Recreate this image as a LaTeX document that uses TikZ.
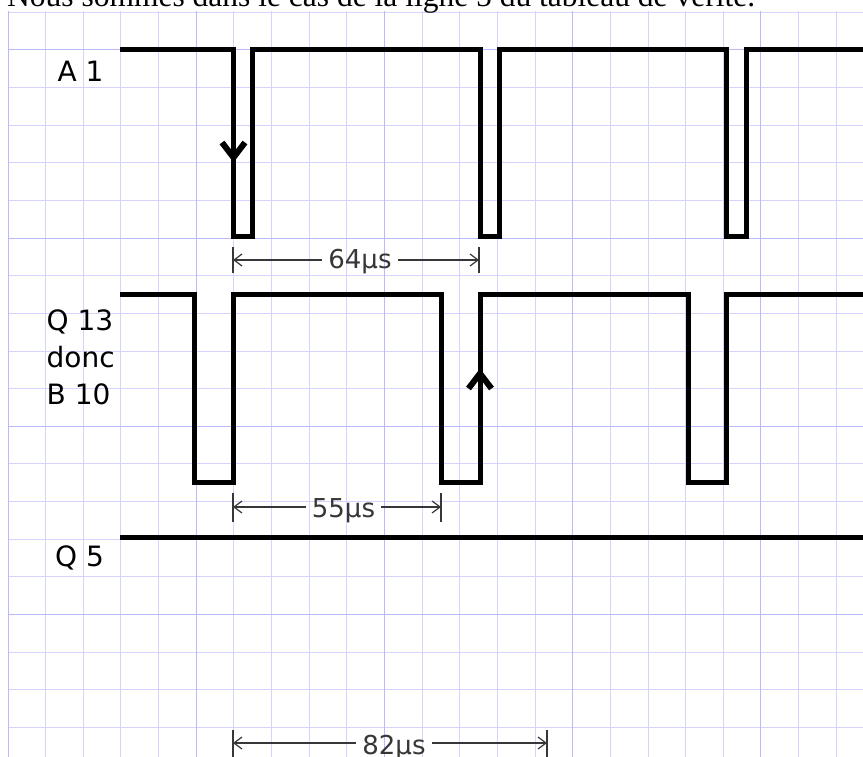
\documentclass[tikz,border=0pt]{standalone}
\usepackage{fontspec}
\setmainfont{Liberation Serif}
\newfontfamily\dvs{DejaVu Sans}
\usetikzlibrary{arrows.meta}
\definecolor{gridminor}{RGB}{212,212,255}
\definecolor{gridmajor}{RGB}{185,185,255}
\definecolor{dimgray}{RGB}{55,55,55}
\begin{document}
\begin{tikzpicture}[x=1pt,y=-1pt,
  signal/.style={line width=5pt, line join=miter, draw=black},
  edgearrow/.style={line width=6pt, line join=miter, draw=black},
  siglabel/.style={font=\dvs\fontsize{28}{37}\selectfont, anchor=base west, inner sep=0pt, align=left},
  dimtext/.style={font=\dvs\fontsize{26}{30}\selectfont, text=dimgray, anchor=base, inner xsep=6pt, inner ysep=0pt},
  dimline/.style={line width=1.2pt, draw=dimgray, -{Straight Barb[length=8pt,width=12pt,line width=1.2pt]}},
  dimbar/.style={line width=1.8pt, draw=dimgray},
  gridminorline/.style={line width=1pt, draw=gridminor},
  gridmajorline/.style={line width=1pt, draw=gridmajor}]

\useasboundingbox (0,0) rectangle (863,757);
\fill[white] (0,0) rectangle (863,757);

% grid
\foreach \k in {0,...,22} {
  \pgfmathsetmacro\xx{round(7.5+37.65*\k)+0.5}
  \draw[gridminorline] (\xx,11.5) -- (\xx,757);
}
\foreach \k in {0,...,19} {
  \pgfmathsetmacro\yy{round(11.7+37.65*\k)+0.5}
  \draw[gridminorline] (7.5,\yy) -- (863,\yy);
}
\foreach \k in {0,5,10,15,20} {
  \pgfmathsetmacro\xx{round(7.5+37.65*\k)+0.5}
  \draw[gridmajorline] (\xx,11.5) -- (\xx,757);
}
\foreach \k in {1,6,11,16} {
  \pgfmathsetmacro\yy{round(11.7+37.65*\k)+0.5}
  \draw[gridmajorline] (7.5,\yy) -- (863,\yy);
}

% title
\node[font=\fontsize{31.5}{36}\selectfont, anchor=base west, inner sep=0pt] (title) at (7,7)
  {Nous sommes dans le cas de la ligne 5 du tableau de verité.};

% labels
\node[siglabel] (la1) at (57.5,81.5) {A 1};
\node[siglabel] (lq13) at (46.5,404) {Q 13\\donc\\B 10};
\node[siglabel] (lq5) at (55,566.5) {Q 5};

% signals
\draw[signal] (120,50) -- (233.5,50) -- (233.5,237) -- (252.5,237) -- (252.5,50)
  -- (480,50) -- (480,237) -- (499,237) -- (499,50)
  -- (726.5,50) -- (726.5,237) -- (746.5,237) -- (746.5,50) -- (863,50);
\draw[signal] (120,294) -- (194,294) -- (194,482) -- (233,482) -- (233,294)
  -- (441,294) -- (441,482) -- (480,482) -- (480,294)
  -- (688,294) -- (688,482) -- (726.5,482) -- (726.5,294) -- (863,294);
\draw[signal] (120,537) -- (863,537);

% edge arrows
\draw[edgearrow] (222,142.5) -- (233.5,157.5) -- (245,142.5);
\draw[edgearrow] (468.5,388.5) -- (480,373.5) -- (491.5,388.5);

% dimension 64
\coordinate (l64) at (233,260);
\coordinate (r64) at (479,260);
\draw[dimbar] (233,247) -- (233,273);
\draw[dimbar] (479,247) -- (479,273);
\node[dimtext] (t64) at (360,269) {64µs};
\draw[dimline] (t64.west |- l64) -- (l64);
\draw[dimline] (t64.east |- r64) -- (r64);

% dimension 55
\coordinate (l55) at (233,507);
\coordinate (r55) at (441,507);
\draw[dimbar] (233,493) -- (233,522);
\draw[dimbar] (441,493) -- (441,522);
\node[dimtext] (t55) at (343.5,517) {55µs};
\draw[dimline] (t55.west |- l55) -- (l55);
\draw[dimline] (t55.east |- r55) -- (r55);

% dimension 82
\coordinate (l82) at (233,743);
\coordinate (r82) at (547,743);
\draw[dimbar] (233,730) -- (233,757);
\draw[dimbar] (547,730) -- (547,757);
\node[dimtext] (t82) at (394,754) {82µs};
\draw[dimline] (t82.west |- l82) -- (l82);
\draw[dimline] (t82.east |- r82) -- (r82);
\end{tikzpicture}
\end{document}
